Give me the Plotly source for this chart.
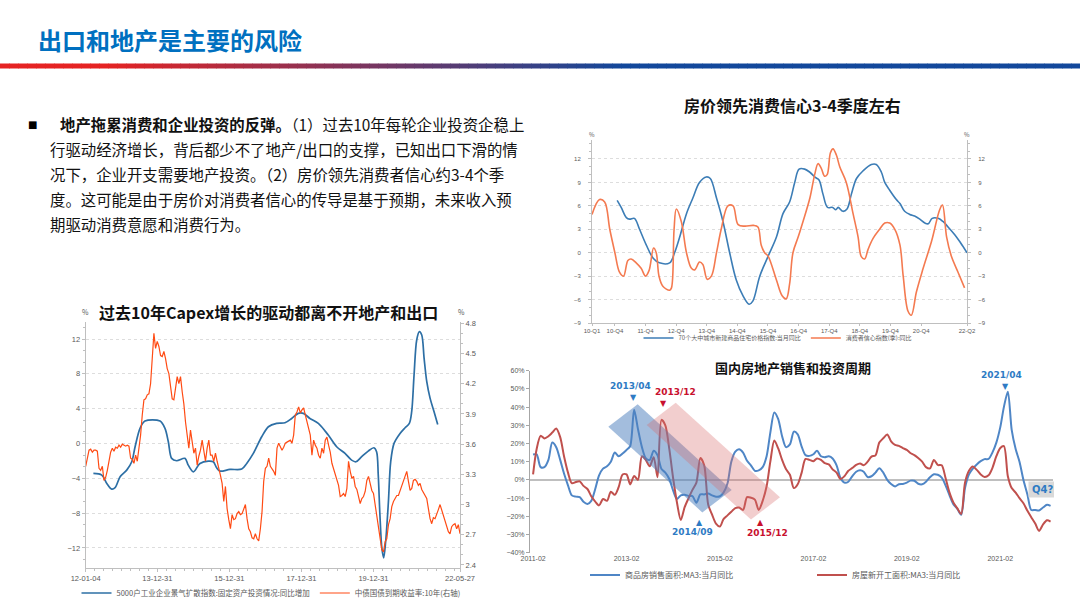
import plotly.graph_objects as go
import pandas as pd

W, H = 1080, 608
def PX(x): return x / W
def PY(y): return 1 - y / H

# ---------------- Chart A: 房价领先消费信心 ----------------
a_price_name = '70个大中城市新建商品住宅价格指数:当月同比'
a_price_dates = ['2010-10-28','2010-12-15','2011-02-15','2011-03-25','2011-05-22','2011-07-22','2011-10-10','2012-01-01','2012-03-15','2012-07-15','2012-09-12','2012-11-12','2013-02-01','2013-04-18','2013-07-06','2013-09-25','2013-11-12','2014-01-25','2014-04-12','2014-07-01','2014-09-18','2014-12-06','2015-02-18','2015-04-03','2015-06-25','2015-10-01','2016-01-10','2016-03-28','2016-06-15','2016-08-15','2016-10-06','2016-12-12','2017-02-12','2017-04-22','2017-06-01','2017-07-18','2017-09-10','2017-11-10','2017-12-18','2018-01-15','2018-03-12','2018-05-01','2018-06-22','2018-08-22','2018-11-10','2019-02-15','2019-04-15','2019-06-15','2019-07-25','2019-09-22','2019-12-10','2020-01-22','2020-03-18','2020-05-18','2020-07-15','2020-09-15','2020-11-15','2020-12-25','2021-02-10','2021-04-22','2021-06-18','2021-08-18','2021-11-06','2022-01-06','2022-04-01']
a_price_vals = [6.7,5.8,4.5,4.3,4.4,3.0,1.0,-0.7,-1.3,-1.3,0.0,2.0,5.0,7.0,9.0,9.7,9.5,7.0,4.0,0.0,-3.5,-5.5,-6.6,-6.2,-3.0,-0.5,2.0,5.0,6.5,9.0,10.7,10.7,10.3,9.6,9.3,7.5,5.8,5.8,5.5,5.8,5.3,5.6,7.5,9.5,10.5,11.3,11.3,10.3,9.0,8.0,6.8,6.3,5.3,4.9,4.7,4.3,3.8,3.7,4.4,4.4,4.0,3.3,2.3,1.4,0.0]

a_conf_name = '消费者信心指数(季):同比'
a_conf_dates = ['2010-01-01','2010-04-01','2010-06-01','2010-08-01','2010-10-01','2010-11-25','2011-01-12','2011-03-05','2011-04-12','2011-06-12','2011-08-10','2011-10-01','2011-11-12','2012-01-06','2012-02-06','2012-03-10','2012-04-25','2012-07-15','2012-08-06','2012-09-06','2012-10-03','2012-12-01','2013-02-01','2013-04-01','2013-05-10','2013-07-06','2013-08-15','2013-10-06','2013-11-25','2014-01-25','2014-03-22','2014-06-10','2014-08-10','2014-10-10','2014-12-28','2015-04-12','2015-06-03','2015-07-12','2015-08-22','2015-10-01','2016-01-10','2016-03-18','2016-05-06','2016-06-15','2016-07-25','2016-09-25','2016-11-22','2017-02-12','2017-04-10','2017-05-20','2017-06-28','2017-08-06','2017-09-06','2017-10-15','2017-11-15','2017-12-25','2018-02-03','2018-04-22','2018-07-12','2018-09-10','2018-10-18','2018-11-28','2019-01-06','2019-03-06','2019-05-25','2019-07-25','2019-09-22','2019-11-22','2020-01-22','2020-03-01','2020-04-28','2020-06-06','2020-08-06','2020-10-25','2021-02-03','2021-05-10','2021-06-12','2021-08-01','2021-09-28','2021-12-15','2022-03-03']
a_conf_vals = [4.9,6.8,6.5,3.0,0.0,-2.5,-3.0,-1.0,-0.8,-1.3,-2.0,-3.0,-2.3,0.6,0.0,-3.0,-4.3,-4.8,-4.5,3.0,5.6,4.0,0.0,-2.0,-2.2,-1.2,-1.5,-3.4,-3.0,0.0,3.0,6.0,6.0,3.6,3.4,3.5,3.3,1.0,0.0,-0.4,-3.5,-5.5,-5.9,-4.0,0.0,2.0,4.0,7.0,10.0,11.4,10.8,9.8,10.0,12.8,13.3,12.5,11.0,9.0,5.0,2.0,-0.5,-0.8,0.4,1.8,3.0,3.8,3.8,3.0,1.0,-3.0,-7.5,-8.0,-5.0,-2.0,1.5,5.5,6.1,2.0,-0.5,-2.5,-4.5]

a_tick_dates = ['2010-01-01','2010-10-01','2011-10-01','2012-10-01','2013-10-01','2014-10-01','2015-10-01','2016-10-01','2017-10-01','2018-10-01','2019-10-01','2020-10-01','2022-04-01']
a_tick_labels = ['10-Q1','10-Q4','11-Q4','12-Q4','13-Q4','14-Q4','15-Q4','16-Q4','17-Q4','18-Q4','19-Q4','20-Q4','22-Q2']

# ---------------- Chart B: Capex vs 10Y yield ----------------
b_capex_name = '5000户工业企业景气扩散指数:固定资产投资情况:同比增加'
b_capex_dates = ['2012-03-22','2012-06-15','2012-08-05','2012-09-24','2012-10-28','2012-12-18','2013-02-23','2013-04-15','2013-05-19','2013-07-08','2013-08-27','2014-01-27','2014-03-18','2014-04-21','2014-05-25','2014-07-14','2014-10-07','2014-11-09','2014-12-31','2015-03-08','2015-06-01','2015-07-21','2015-08-24','2015-09-27','2016-01-06','2016-05-04','2016-06-24','2016-08-30','2016-11-23','2017-01-30','2017-04-23','2017-07-17','2017-09-23','2017-11-29','2018-01-19','2018-03-27','2018-06-20','2018-09-29','2018-12-23','2019-03-18','2019-05-24','2019-07-07','2019-09-03','2019-11-08','2020-01-05','2020-02-01','2020-02-18','2020-03-06','2020-03-26','2020-04-13','2020-05-03','2020-05-31','2020-06-23','2020-07-27','2020-09-26','2020-11-16','2020-12-29','2021-01-22','2021-02-15','2021-03-14','2021-04-10','2021-05-04','2021-05-28','2021-06-24','2021-07-28','2021-09-06','2021-10-13']
b_capex_vals = [-3.44,-3.63,-4.59,-5.24,-5.08,-3.82,-3.06,-2.10,-0.37,1.73,2.58,2.58,1.73,0.20,-1.71,-1.98,-1.71,-2.48,-3.25,-2.29,-2.02,-2.10,-2.79,-3.17,-2.98,-2.94,-2.29,-1.14,0.77,1.92,2.31,2.38,2.88,3.46,3.46,2.88,2.31,0.97,-0.37,-1.14,-1.91,-2.10,-1.52,-0.87,-0.49,-0.95,-3.63,-8.23,-12.06,-13.13,-11.29,-6.69,-2.10,0.01,1.16,1.81,2.31,3.65,7.86,11.89,12.84,12.46,9.78,7.10,5.18,3.65,2.19]

b_bond_name = '中债国债到期收益率:10年(右轴)'
b_bond_first, b_bond_last = '2012-01-04', '2022-05-27'   # semi-monthly readings between these dates
b_bond_vals = [3.38,3.46,3.54,3.55,3.52,3.54,3.54,3.53,3.36,3.34,3.38,3.24,3.27,3.34,3.43,3.52,3.56,3.53,3.57,3.56,
               3.59,3.57,3.60,3.59,3.58,3.59,3.58,3.46,3.45,3.41,3.49,3.43,3.54,3.69,3.89,4.04,4.05,4.09,4.10,4.20,
               4.45,4.70,4.55,4.62,4.57,4.48,4.47,4.52,4.45,4.35,4.30,4.17,4.05,4.04,4.17,4.27,4.20,4.27,4.12,4.00,
               3.82,3.71,3.56,3.74,3.61,3.51,3.56,3.39,3.48,3.54,3.64,3.52,3.43,3.56,3.64,3.49,3.49,3.43,3.51,3.43,
               3.34,3.29,3.21,3.03,3.18,2.96,2.85,2.76,2.90,2.85,2.86,2.91,2.93,2.90,2.91,2.96,3.00,2.86,2.76,2.73,
               2.67,2.66,2.71,2.66,2.64,2.76,2.93,3.23,3.36,3.38,3.46,3.38,3.36,3.33,3.29,
               3.56,3.61,3.57,3.54,3.57,3.61,3.62,3.63,3.64,3.61,3.69,3.89,3.92,3.97,3.91,3.94,3.96,3.89,3.82,3.74,
               3.69,3.49,3.64,3.59,3.56,3.49,3.46,3.56,3.51,3.64,3.67,3.59,3.52,3.41,3.35,3.31,3.24,3.19,3.08,3.09,
               3.11,3.08,3.16,3.43,3.33,3.26,3.28,3.18,3.15,3.08,3.01,3.06,3.08,3.13,3.24,3.28,3.21,3.14,3.11,3.00,
               2.86,2.76,2.66,2.55,2.53,2.63,2.66,2.80,2.86,2.98,3.03,3.06,3.09,3.09,3.14,3.18,3.24,3.28,3.33,3.23,
               3.14,3.16,3.24,3.25,3.23,3.19,3.21,3.15,3.12,3.09,3.06,2.96,2.86,2.81,2.87,2.86,2.90,2.95,3.00,2.95,
               2.88,2.83,2.78,2.73,2.71,2.78,2.80,2.81,2.76,2.80,2.71]

b_tick_dates = ['2012-01-04','2013-12-31','2015-12-31','2017-12-31','2019-12-31','2022-05-27']

# ---------------- Chart C: 国内房地产销售和投资周期 ----------------
c_first_month = '2011-02-01'
c_sales_name = '商品房销售面积:MA3:当月同比'
c_sales_vals = [14.0,14.0,7.0,7.0,11.0,20.5,18.0,11.0,3.5,-3.0,
                -8.5,-9.2,-9.5,-12.0,-13.2,-11.5,-5.0,2.5,6.2,7.5,
                10.0,15.0,13.0,14.5,16.5,18.5,38.5,28.0,18.0,12.0,
                11.0,16.0,13.5,6.0,4.0,0.5,-6.0,-10.5,-8.5,-8.2,
                -8.8,-8.9,-12.5,-8.0,-8.0,-7.5,-8.5,-9.2,-9.0,-7.0,
                -2.0,10.0,15.5,16.8,15.0,10.5,8.0,5.0,5.2,7.0,
                13.0,26.0,37.0,33.5,24.0,18.0,19.5,26.5,25.0,18.3,
                13.6,13.2,14.1,16.0,13.0,12.5,13.0,11.8,8.0,1.0,
                -1.5,-1.0,2.0,4.5,5.3,4.5,1.6,2.0,4.0,6.4,
                4.0,0.0,-2.3,-3.6,-2.4,-2.2,-1.5,-0.4,-0.5,-2.1,
                -2.4,-1.0,1.5,3.1,2.8,1.2,-3.0,-8.5,-13.5,-15.8,
                -19.2,-4.5,3.0,6.2,8.5,10.3,11.4,11.5,15.0,20.5,
                29.0,40.0,48.5,27.5,17.0,10.0,0.0,-8.0,-16.5,-16.5,
                -16.8,-15.2,-13.7,-14.3]
c_starts_name = '房屋新开工面积:MA3:当月同比'
c_starts_vals = [3.0,17.0,24.2,22.8,24.0,26.0,28.2,23.5,13.0,4.0,
                 -1.8,-1.2,-0.8,-3.3,-5.0,-9.0,-11.9,-14.0,-10.5,-11.5,
                 -6.5,-8.2,-4.0,3.0,3.0,-2.5,2.2,0.0,13.0,11.0,
                 7.5,12.5,1.5,33.0,30.0,17.0,0.5,-12.0,-22.0,-15.0,
                 -10.0,-5.5,-1.5,12.0,8.0,-13.5,-19.0,-24.0,-25.6,-21.5,
                 -19.5,-17.5,-15.5,-15.2,-16.5,-9.5,-9.8,-10.8,-16.5,-11.5,
                 -3.5,10.0,21.6,17.4,11.0,6.0,2.8,-4.5,-2.4,4.0,
                 11.5,11.0,10.3,11.8,11.0,9.2,8.5,5.8,4.0,0.5,
                 2.0,5.0,6.5,8.2,9.0,8.0,10.0,12.8,13.5,20.5,
                 22.9,25.0,21.2,19.2,18.7,17.5,16.5,14.8,13.6,12.0,
                 10.0,7.0,6.3,11.0,8.2,8.0,1.0,-7.0,-12.5,-15.5,
                 -18.7,-1.5,5.0,7.3,5.5,3.0,1.6,2.5,6.5,13.0,
                 17.5,18.5,2.0,-4.5,-7.0,-10.0,-12.8,-17.0,-20.5,-24.0,
                 -28.0,-24.5,-22.2,-22.9]
c_tick_dates = ['2011-02-01','2013-02-01','2015-02-01','2017-02-01','2019-02-01','2021-02-01']

assert len(a_price_dates) == len(a_price_vals)
assert len(a_conf_dates) == len(a_conf_vals)
assert len(b_capex_dates) == len(b_capex_vals)
assert len(c_sales_vals) == len(c_starts_vals)

b_bond_dates = pd.date_range(b_bond_first, b_bond_last, periods=len(b_bond_vals))
c_dates = pd.date_range(c_first_month, periods=len(c_sales_vals), freq='MS')

CJK = 'Noto Sans CJK SC'
LAT = 'Liberation Sans'
GREY = '#595959'
AX = '#BFBFBF'

fig = go.Figure()
# Chart A
fig.add_trace(go.Scatter(x=a_price_dates, y=a_price_vals, name=a_price_name, mode='lines',
                         line=dict(color='#3C7DB6', width=1.6, shape='spline'), xaxis='x', yaxis='y', legend='legend'))
fig.add_trace(go.Scatter(x=a_conf_dates, y=a_conf_vals, name=a_conf_name, mode='lines',
                         line=dict(color='#F47A50', width=1.6, shape='spline'), xaxis='x', yaxis='y2', legend='legend'))
# Chart B
fig.add_trace(go.Scatter(x=b_capex_dates, y=b_capex_vals, name=b_capex_name, mode='lines',
                         line=dict(color='#2D6FA5', width=1.7, shape='spline', smoothing=0.9), xaxis='x2', yaxis='y3', legend='legend2'))
fig.add_trace(go.Scatter(x=b_bond_dates, y=b_bond_vals, name=b_bond_name, mode='lines',
                         line=dict(color='#FF4B14', width=1.2), xaxis='x2', yaxis='y4', legend='legend2'))
# Chart C
fig.add_trace(go.Scatter(x=c_dates, y=c_sales_vals, name=c_sales_name, mode='lines',
                         line=dict(color='#4F86C6', width=2, shape='spline', smoothing=0.8), xaxis='x3', yaxis='y5', legend='legend3'))
fig.add_trace(go.Scatter(x=c_dates, y=c_starts_vals, name=c_starts_name, mode='lines',
                         line=dict(color='#C0504D', width=2, shape='spline', smoothing=0.8), xaxis='x3', yaxis='y5', legend='legend3'))

tf6 = dict(family=LAT, size=6, color=GREY)
tf75 = dict(family=LAT, size=7.5, color=GREY)
tf7 = dict(family=LAT, size=7, color=GREY)

fig.update_layout(
    width=W, height=H, margin=dict(l=0, r=0, t=0, b=0, autoexpand=False),
    paper_bgcolor='white', plot_bgcolor='white',
    font=dict(family=CJK, color='#222'),
    # ----- chart A axes
    xaxis=dict(domain=[PX(592), PX(967)], anchor='y', type='date', range=['2010-01-01', '2022-04-01'],
               tickvals=a_tick_dates, ticktext=a_tick_labels, tickfont=tf6, showline=True, linecolor=AX,
               ticks='outside', ticklen=2, tickcolor=AX, showgrid=False, zeroline=False, automargin=False),
    yaxis=dict(domain=[PY(323), PY(140)], anchor='x', range=[-9, 14.43], dtick=3, tick0=0, tickfont=tf6,
               showline=True, linecolor=AX, ticks='outside', ticklen=3, tickcolor=AX, ticklabelstandoff=6,
               showgrid=True, gridcolor='#DDDDDD', griddash='dot', gridwidth=1, zeroline=False, automargin=False,
               minor=dict(ticks='outside', ticklen=2, dtick=1, tickcolor=AX, showgrid=False)),
    yaxis2=dict(overlaying='y', side='right', anchor='x', range=[-9, 14.43], dtick=3, tick0=0, tickfont=tf6,
                showline=True, linecolor=AX, ticks='outside', ticklen=3, tickcolor=AX, ticklabelstandoff=6,
                showgrid=False, zeroline=False, automargin=False,
                minor=dict(ticks='outside', ticklen=2, dtick=1, tickcolor=AX)),
    # ----- chart B axes
    xaxis2=dict(domain=[PX(85.7), PX(460)], anchor='y3', type='date', range=['2012-01-04', '2022-05-27'],
                tickvals=b_tick_dates, tickformat='%y-%m-%d', tickfont=tf75, showline=True, linecolor=AX,
                ticks='outside', ticklen=3, tickcolor=AX, showgrid=False, zeroline=False, automargin=False,
                minor=dict(ticks='outside', ticklen=2, dtick='M3', tick0='2012-01-01', tickcolor=AX)),
    yaxis3=dict(domain=[PY(568), PY(321.7)], anchor='x2', range=[-14.3, 13.99], dtick=4, tick0=0, tickfont=tf75,
                showline=True, linecolor=AX, ticks='outside', ticklen=3, tickcolor=AX, automargin=False,
                showgrid=True, gridcolor='#DDDDDD', griddash='dot', zeroline=False,
                minor=dict(ticks='outside', ticklen=2, dtick=4/3, tick0=0, tickcolor=AX, showgrid=False)),
    yaxis4=dict(overlaying='y3', side='right', anchor='x2', range=[2.37, 4.816], dtick=0.3, tick0=2.4, tickfont=tf75,
                showline=True, linecolor=AX, ticks='outside', ticklen=3, tickcolor=AX, showgrid=False, zeroline=False,
                automargin=False, minor=dict(ticks='outside', ticklen=2, dtick=0.1, tick0=2.4, tickcolor=AX)),
    # ----- chart C axes
    xaxis3=dict(domain=[PX(530), PX(1053)], anchor='y5', type='date', range=['2011-01-08', '2022-03-20'],
                tickvals=c_tick_dates, tickformat='%Y-%m', tickfont=tf7, showline=False, ticks='',
                showgrid=False, zeroline=False, automargin=False),
    yaxis5=dict(domain=[PY(552.7), PY(370.7)], anchor='x3', range=[-40, 60], dtick=10, tick0=0, ticksuffix='%',
                tickfont=tf7, showline=True, linecolor='#A6A6A6', ticks='outside', ticklen=3, tickcolor='#A6A6A6',
                showgrid=False, zeroline=True, zerolinecolor='#BFBFBF', zerolinewidth=2, automargin=False),
    legend=dict(x=PX(778), y=PY(338), xanchor='center', yanchor='middle', orientation='h',
                font=dict(family=CJK, size=6, color=GREY), bgcolor='rgba(0,0,0,0)', itemwidth=30),
    legend2=dict(x=PX(271), y=PY(593), xanchor='center', yanchor='middle', orientation='h',
                 font=dict(family=CJK, size=7.5, color=GREY), bgcolor='rgba(0,0,0,0)', itemwidth=30),
    legend3=dict(x=PX(812), y=PY(575), xanchor='center', yanchor='middle', orientation='h',
                 font=dict(family=CJK, size=8, color=GREY), bgcolor='rgba(0,0,0,0)', itemwidth=30,
                 entrywidth=182, entrywidthmode='pixels'),
)

ann = []
def text(x, y, s, size, color='#000', xanchor='center', family=CJK, yanchor='middle'):
    ann.append(dict(x=PX(x), y=PY(y), xref='paper', yref='paper', text=s, showarrow=False,
                    xanchor=xanchor, yanchor=yanchor, font=dict(family=family, size=size, color=color)))

# slide header
text(36, 40, '<b>出口和地产是主要的风险</b>', 24, '#0070C0', xanchor='left')
# gradient rule under the header
n_seg = 120
for i in range(n_seg):
    x0 = i * W / n_seg
    x1 = (i + 1) * W / n_seg + 0.6
    t = min(max((x0 - 100) / 520, 0), 1)
    r = int(229 + (18 - 229) * t); g = int(35 + (72 - 35) * t); b = int(35 + (155 - 35) * t)
    fig.add_shape(type='rect', xref='paper', yref='paper', x0=PX(x0), x1=PX(min(x1, W)), y0=PY(68.5), y1=PY(63.5),
                  fillcolor=f'rgb({r},{g},{b})', line_width=0, layer='above')

# bullet text
text(32.7, 124.3, '■', 10, '#000', family='DejaVu Sans')
lines = ['<b>地产拖累消费和企业投资的反弹。</b>（1）过去10年每轮企业投资企稳上',
         '行驱动经济增长，背后都少不了地产/出口的支撑，已知出口下滑的情',
         '况下，企业开支需要地产投资。（2）房价领先消费者信心约3-4个季',
         '度。这可能是由于房价对消费者信心的传导是基于预期，未来收入预',
         '期驱动消费意愿和消费行为。']
ys = [124.3, 149.3, 174.2, 199.0, 223.8]
for i, (s, y) in enumerate(zip(lines, ys)):
    text(58 if i == 0 else 48, y, s, 15.4, '#111', xanchor='left')

# chart A labels
text(792.5, 105, '<b>房价领先消费信心3-4季度左右</b>', 16, '#111')
text(592, 134, '%', 6, GREY)
text(967, 134, '%', 6, GREY)
# chart B labels
text(268.5, 311.5, '<b>过去10年Capex增长的驱动都离不开地产和出口</b>', 16, '#111')
text(85, 312, '%', 7, GREY)
text(461.7, 312, '%', 7, GREY)
# chart C labels
text(793, 367.3, '<b>国内房地产销售和投资周期</b>', 13, '#111')

BLUE_T = '#2E7BC4'
RED_T = '#C8102E'
text(630, 386, '<b>2013/04</b>', 9, BLUE_T, family='DejaVu Sans')
text(633.3, 397.3, '▼', 8, BLUE_T, family='DejaVu Sans')
text(675, 392.3, '<b>2013/12</b>', 9, RED_T, family='DejaVu Sans')
text(663.3, 403.3, '▼', 8, RED_T, family='DejaVu Sans')
text(692.3, 532.3, '<b>2014/09</b>', 9, BLUE_T, family='DejaVu Sans')
text(699, 522.3, '▲', 8, BLUE_T, family='DejaVu Sans')
text(767.5, 532.7, '<b>2015/12</b>', 9, RED_T, family='DejaVu Sans')
text(760, 522.3, '▲', 8, RED_T, family='DejaVu Sans')
text(1001.7, 375, '<b>2021/04</b>', 9, BLUE_T, family='DejaVu Sans')
text(1005, 386.7, '▼', 8, BLUE_T, family='DejaVu Sans')

# translucent cycle bands
def poly(pts):
    return 'M ' + ' L '.join(f'{PX(x):.5f},{PY(y):.5f}' for x, y in pts) + ' Z'
fig.add_shape(type='path', xref='paper', yref='paper',
              path=poly([(608.3, 426.7), (637.7, 404.3), (731.7, 490.0), (702.3, 512.4)]),
              fillcolor='rgba(79,129,189,0.52)', line_width=0, layer='above')
fig.add_shape(type='path', xref='paper', yref='paper',
              path=poly([(646.7, 425.0), (675.7, 402.7), (780.0, 497.3), (751.0, 519.6)]),
              fillcolor='rgba(215,105,105,0.33)', line_width=0, layer='above')
# Q4? box
fig.add_shape(type='rect', xref='paper', yref='paper', x0=PX(1028.5), x1=PX(1054), y0=PY(497.5), y1=PY(481.5),
              fillcolor='#D9D9D9', line_width=0, layer='above')
text(1042, 489.5, '<b>Q4?</b>', 10, BLUE_T, family='DejaVu Sans')

fig.update_layout(annotations=ann)
fig.write_html('out.html', config={'displayModeBar': False},
               post_script="document.body.style.margin='0';document.body.style.overflow='hidden';")
